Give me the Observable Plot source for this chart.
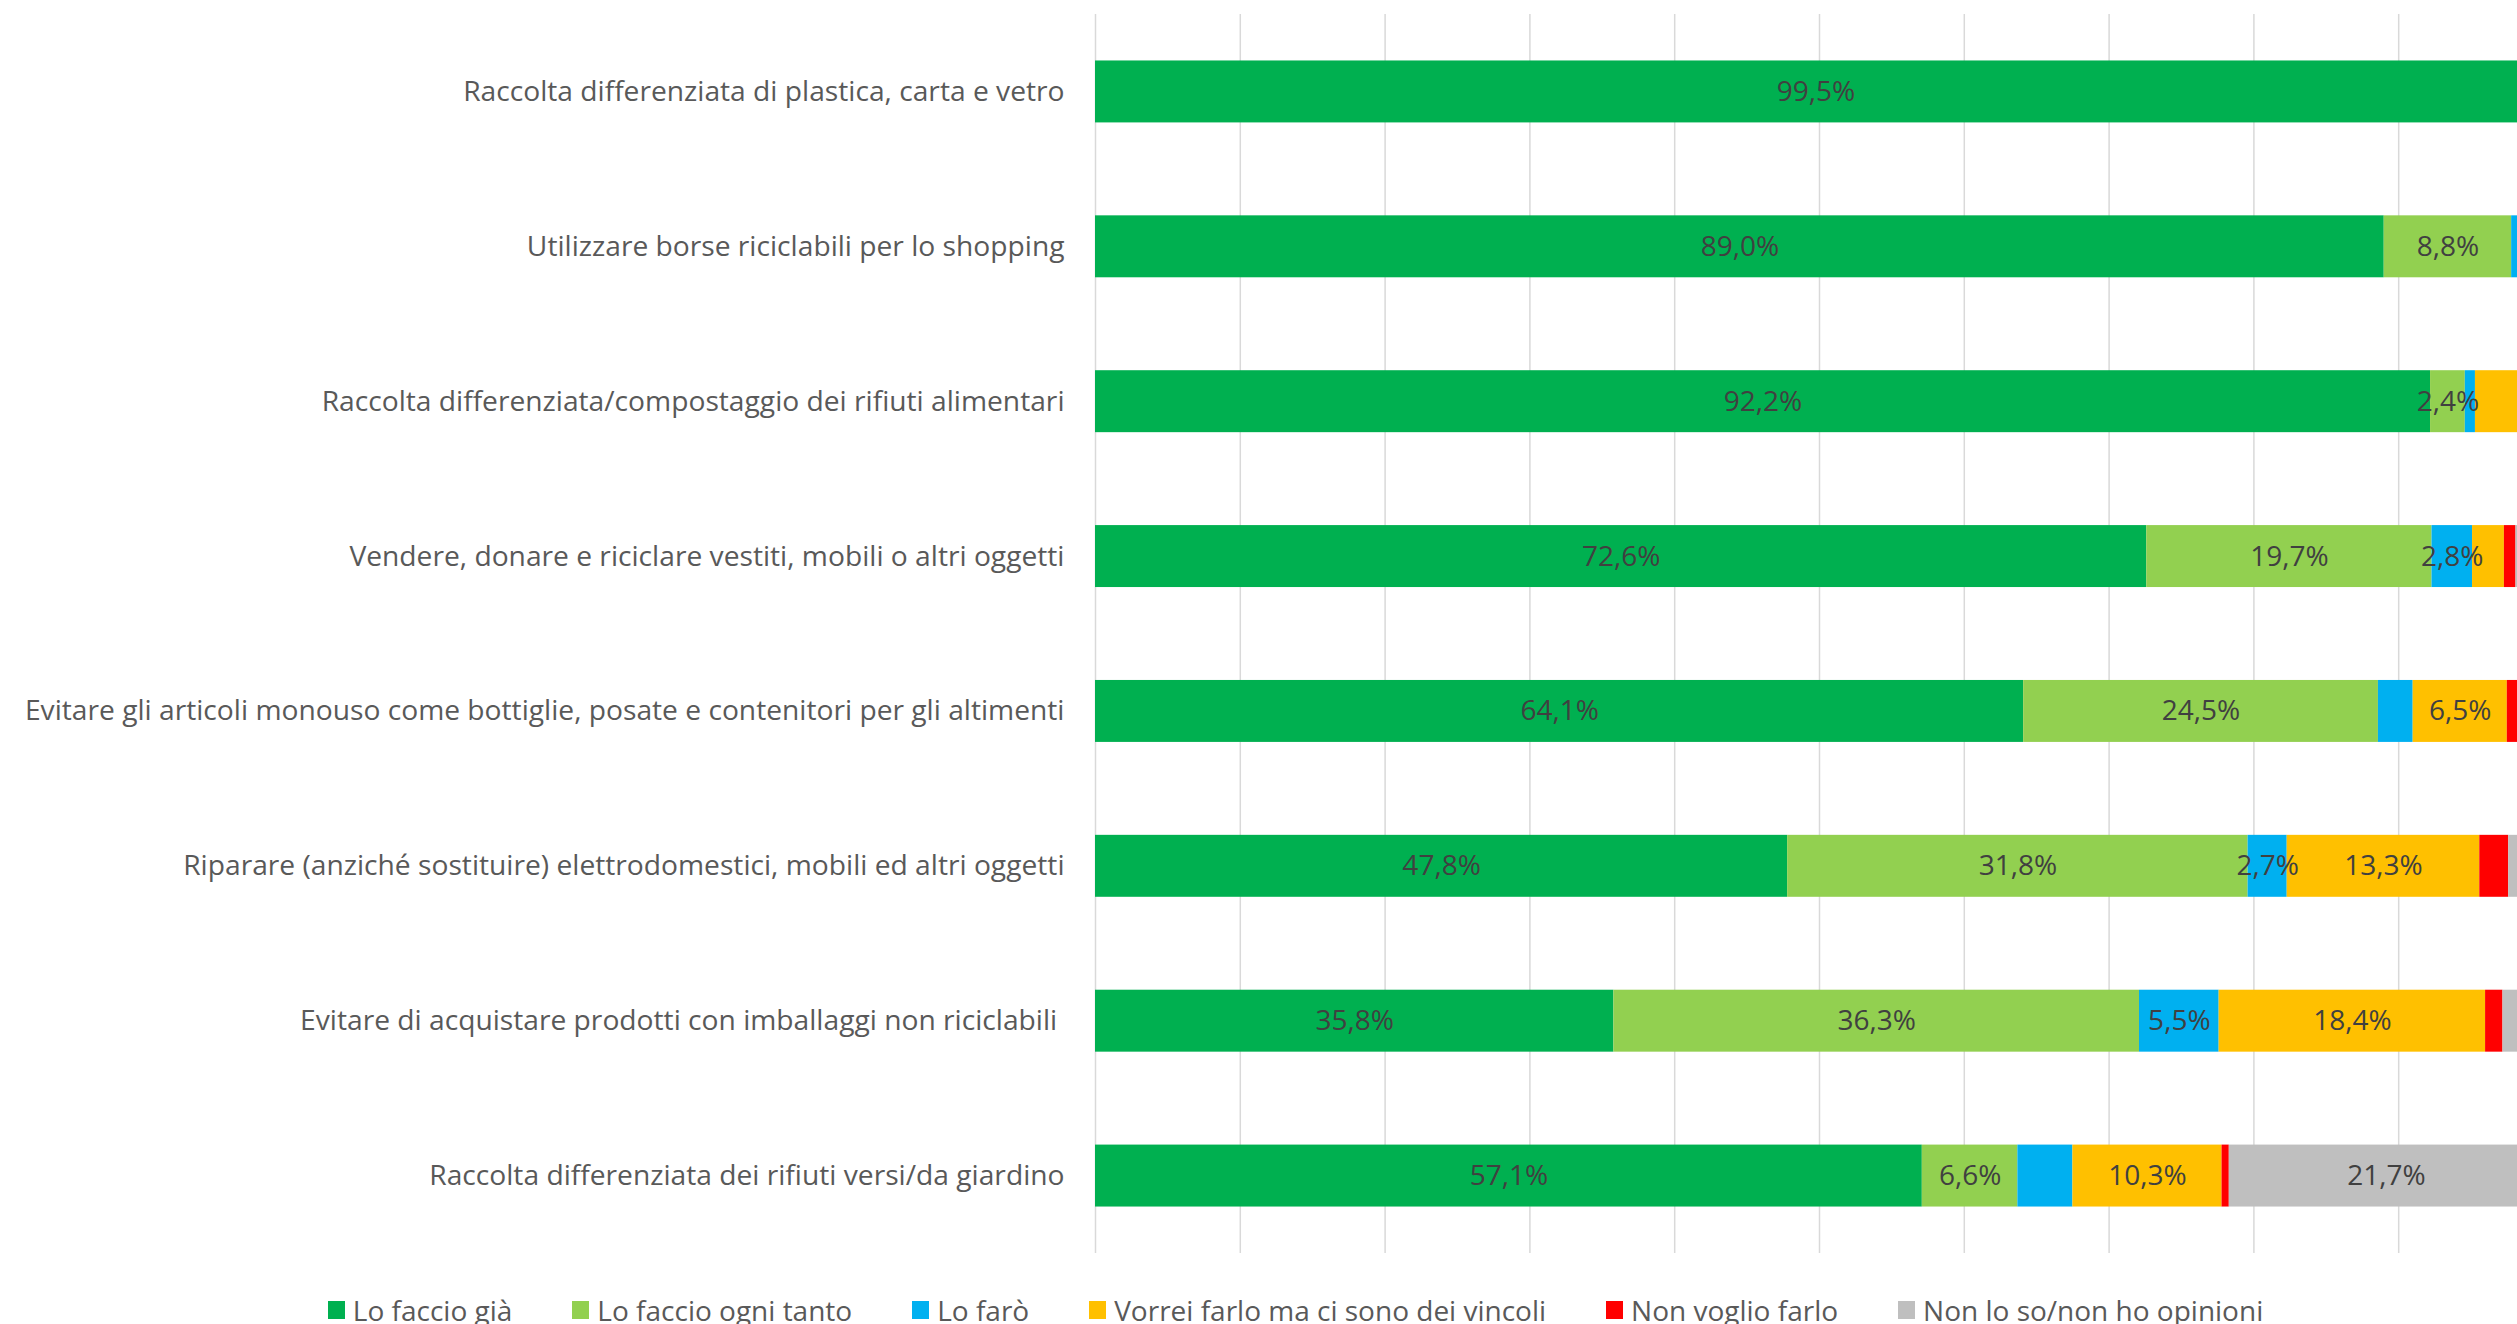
<!DOCTYPE html>
<html><head><meta charset="utf-8">
<script src="https://cdn.jsdelivr.net/npm/d3@7"></script>
<script src="https://cdn.jsdelivr.net/npm/@observablehq/plot@0.6"></script>
<style>
html,body{margin:0;padding:0;background:#fff;overflow:hidden;width:2517px;height:1324px;position:relative;}
#chart svg{overflow:hidden;display:block;}
#legend{position:absolute;left:0;top:1296px;width:2517px;box-sizing:border-box;padding-left:74px;display:flex;justify-content:center;gap:60px;font-family:"Open Sans",sans-serif;font-size:28px;line-height:28px;color:#595959;white-space:nowrap;}
#legend .item{display:inline-flex;align-items:center;}
#legend .sw{width:17px;height:18px;margin-right:8px;display:inline-block;}
</style></head><body>
<div id="chart"></div>
<div id="legend"></div>
<script>
const categories = [
  "Raccolta differenziata di plastica, carta e vetro",
  "Utilizzare borse riciclabili per lo shopping",
  "Raccolta differenziata/compostaggio dei rifiuti alimentari",
  "Vendere, donare e riciclare vestiti, mobili o altri oggetti",
  "Evitare gli articoli monouso come bottiglie, posate e contenitori per gli altimenti",
  "Riparare (anziché sostituire) elettrodomestici, mobili ed altri oggetti",
  "Evitare di acquistare prodotti con imballaggi non riciclabili ",
  "Raccolta differenziata dei rifiuti versi/da giardino"
];
const seriesNames = ["Lo faccio già","Lo faccio ogni tanto","Lo farò","Vorrei farlo ma ci sono dei vincoli","Non voglio farlo","Non lo so/non ho opinioni"];
const seriesColors = ["#00B050","#92D050","#00B0F0","#FFC000","#FF0000","#BFBFBF"];

const faccioGia       = [99.5, 89.0, 92.2, 72.6, 64.1, 47.8, 35.8, 57.1];
const faccioOgniTanto = [0.3, 8.8, 2.4, 19.7, 24.5, 31.8, 36.3, 6.6];
const faro            = [0.1, 1.0, 0.7, 2.8, 2.4, 2.7, 5.5, 3.8];
const vorrei          = [0.1, 0.6, 3.8, 2.2, 6.5, 13.3, 18.4, 10.3];
const nonVoglio       = [0.0, 0.2, 0.3, 0.8, 1.0, 2.0, 1.2, 0.5];
const nonSo           = [0.0, 0.4, 0.6, 1.9, 1.5, 2.4, 2.8, 21.7];

// which segments carry a data label in the original
const labelGia       = [true, true, true, true, true, true, true, true];
const labelOgniTanto = [false, true, true, true, true, true, true, true];
const labelFaro      = [false, false, false, true, false, true, true, false];
const labelVorrei    = [false, false, false, false, true, true, true, true];
const labelNonVoglio = [false, false, false, false, false, false, false, false];
const labelNonSo     = [false, false, false, false, false, false, false, true];

const gridTicks = [0, 10, 20, 30, 40, 50, 60, 70, 80, 90, 100];

const allValues = [faccioGia, faccioOgniTanto, faro, vorrei, nonVoglio, nonSo];
const allLabels = [labelGia, labelOgniTanto, labelFaro, labelVorrei, labelNonVoglio, labelNonSo];

const rows = [];
categories.forEach((c, i) => {
  seriesNames.forEach((s, j) => {
    rows.push({cat: c, series: s, value: allValues[j][i], show: allLabels[j][i]});
  });
});
const fmt = v => v.toFixed(1).replace(".", ",") + "%";

const chart = Plot.plot({
  width: 2517,
  height: 1290,
  marginLeft: 1095,
  marginRight: 0,
  marginTop: 14,
  marginBottom: 37,
  style: {fontFamily: "'Open Sans', sans-serif", fontSize: "28.2px", color: "#595959", background: "white", overflow: "hidden"},
  x: {domain: [0, 100], range: [1095, 2543], axis: null},
  y: {domain: categories, paddingInner: 0.6, paddingOuter: 0.3, round: false, tickSize: 0, tickPadding: 31, label: null},
  color: {domain: seriesNames, range: seriesColors},
  marks: [
    Plot.ruleX(gridTicks, {stroke: "#D9D9D9", strokeWidth: 1.5}),
    Plot.barX(rows, Plot.stackX({x: "value", y: "cat", fill: "series", z: "series"})),
    Plot.text(rows, Plot.stackX({x: "value", y: "cat", z: "series",
      text: d => d.show ? fmt(d.value) : "", fill: "#404040", fontSize: 28}))
  ]
});
document.getElementById("chart").appendChild(chart);

const legend = document.getElementById("legend");
seriesNames.forEach((s, j) => {
  const it = document.createElement("span");
  it.className = "item";
  const sw = document.createElement("span");
  sw.className = "sw";
  sw.style.background = seriesColors[j];
  const tx = document.createElement("span");
  tx.textContent = s;
  it.appendChild(sw); it.appendChild(tx);
  legend.appendChild(it);
});
</script>
</body></html>
